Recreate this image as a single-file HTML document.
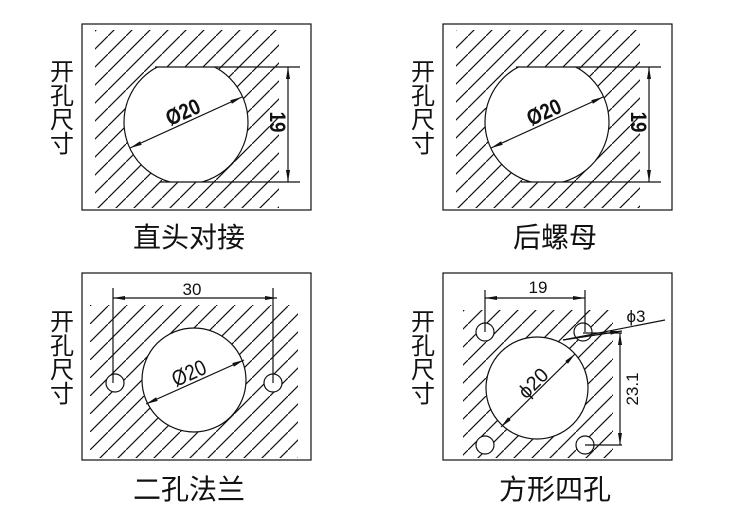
<!DOCTYPE html>
<html><head><meta charset="utf-8"><style>
html,body{margin:0;padding:0;background:#fff;width:750px;height:519px;overflow:hidden}
svg{display:block}
text{font-family:"Liberation Sans","Noto Sans CJK SC",sans-serif;fill:#111}
</style></head><body>
<svg width="750" height="519" viewBox="0 0 750 519">
<defs>
<pattern id="h" patternUnits="userSpaceOnUse" width="18" height="18">
<line x1="-1" y1="19" x2="19" y2="-1" stroke="#111" stroke-width="1.2"/>
</pattern>
<clipPath id="c1"><rect x="100" y="67" width="200" height="115"/></clipPath>
<clipPath id="c2"><rect x="461" y="67" width="200" height="115"/></clipPath>
<marker id="a" viewBox="0 0 12 4" refX="12" refY="2" markerWidth="12" markerHeight="4" orient="auto-start-reverse" markerUnits="userSpaceOnUse"><path d="M0,0L12,2L0,4z" fill="#111"/></marker>
</defs>
<g stroke="#111" stroke-width="1.2" fill="none">
<rect x="82" y="24" width="229" height="186"/>
<rect x="95" y="30" width="184" height="178" fill="url(#h)" stroke="none"/>
<circle cx="186" cy="122" r="62" fill="#fff" clip-path="url(#c1)"/>
<line x1="155" y1="67" x2="300" y2="67"/><line x1="160" y1="182" x2="300" y2="182"/>
<line x1="288" y1="67" x2="288" y2="182" marker-start="url(#a)" marker-end="url(#a)"/>
<line x1="130" y1="148" x2="242" y2="97" marker-start="url(#a)" marker-end="url(#a)"/>
<rect x="443" y="24" width="229" height="186"/>
<rect x="456" y="30" width="184" height="178" fill="url(#h)" stroke="none"/>
<circle cx="547" cy="122" r="62" fill="#fff" clip-path="url(#c2)"/>
<line x1="516" y1="67" x2="661" y2="67"/><line x1="521" y1="182" x2="661" y2="182"/>
<line x1="649" y1="67" x2="649" y2="182" marker-start="url(#a)" marker-end="url(#a)"/>
<line x1="491" y1="148" x2="603" y2="97" marker-start="url(#a)" marker-end="url(#a)"/>
<rect x="82" y="273" width="229" height="187"/>
<rect x="90" y="305" width="208" height="153" fill="url(#h)" stroke="none"/>
<circle cx="194" cy="380" r="52" fill="#fff"/>
<circle cx="115" cy="383" r="9" fill="#fff"/><circle cx="273" cy="383" r="9" fill="#fff"/>
<line x1="113" y1="288" x2="113" y2="383"/><line x1="273" y1="288" x2="273" y2="383"/>
<line x1="113" y1="298" x2="277" y2="298" marker-start="url(#a)" marker-end="url(#a)"/>
<line x1="146" y1="404" x2="244" y2="360" marker-start="url(#a)" marker-end="url(#a)"/>
<rect x="443" y="273" width="229" height="187"/>
<rect x="463" y="310" width="150" height="148" fill="url(#h)" stroke="none"/>
<circle cx="537" cy="388" r="51" fill="#fff"/>
<circle cx="485" cy="332" r="9" fill="#fff"/><circle cx="583" cy="332" r="9" fill="#fff"/>
<circle cx="485" cy="445" r="9" fill="#fff"/><circle cx="585" cy="445" r="9" fill="#fff"/>
<line x1="485" y1="290" x2="485" y2="332"/><line x1="585" y1="290" x2="585" y2="332"/>
<line x1="485" y1="298" x2="585" y2="298" marker-start="url(#a)" marker-end="url(#a)"/>
<line x1="583" y1="333" x2="622" y2="333"/><line x1="585" y1="445" x2="622" y2="445"/>
<line x1="620" y1="333" x2="620" y2="445" marker-start="url(#a)" marker-end="url(#a)"/>
<line x1="563" y1="340" x2="665" y2="320"/>
<line x1="563" y1="340" x2="622" y2="331" marker-end="url(#a)"/>
<line x1="501" y1="427" x2="575" y2="354" marker-start="url(#a)" marker-end="url(#a)"/>
</g>
<g font-size="20" text-anchor="middle">
<text transform="translate(186,119) rotate(-24) scale(0.85,1)" font-size="22" font-weight="bold">Ø20</text>
<text transform="translate(547,119) rotate(-24) scale(0.85,1)" font-size="22" font-weight="bold">Ø20</text>
<text transform="translate(192,380) rotate(-24) scale(0.85,1)" font-size="22">Ø20</text>
<text transform="translate(538,388) rotate(-45)" font-size="20">ϕ20</text>
<text transform="translate(270,122) rotate(90) scale(0.85,1)" font-size="22" font-weight="bold">19</text>
<text transform="translate(631,122) rotate(90) scale(0.85,1)" font-size="22" font-weight="bold">19</text>
<text x="192" y="295" font-size="17">30</text>
<text x="538" y="293" font-size="17">19</text>
<text x="636" y="322" font-size="17">ϕ3</text>
<text transform="translate(638,389) rotate(-90)" font-size="17">23.1</text>
<text x="189" y="247" font-size="28">直头对接</text>
<text x="555" y="247" font-size="28">后螺母</text>
<text x="189" y="499" font-size="28">二孔法兰</text>
<text x="555" y="499" font-size="28">方形四孔</text>
</g>
<g font-size="24" text-anchor="middle">
<text x="62" y="80">开</text><text x="62" y="104">孔</text><text x="62" y="128">尺</text><text x="62" y="152">寸</text>
<text x="423" y="80">开</text><text x="423" y="104">孔</text><text x="423" y="128">尺</text><text x="423" y="152">寸</text>
<text x="62" y="330">开</text><text x="62" y="354">孔</text><text x="62" y="378">尺</text><text x="62" y="402">寸</text>
<text x="423" y="330">开</text><text x="423" y="354">孔</text><text x="423" y="378">尺</text><text x="423" y="402">寸</text>
</g>
</svg>
</body></html>
